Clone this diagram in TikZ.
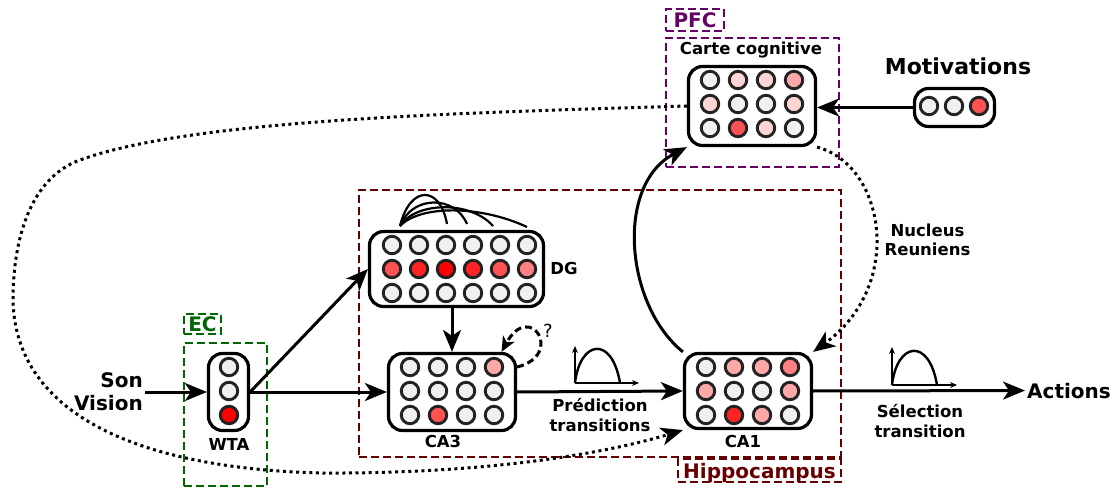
\documentclass[tikz,border=0pt]{standalone}
\usepackage{fontspec}
\setmainfont{DejaVu Sans}
\usetikzlibrary{positioning,arrows.meta,calc}
\definecolor{Plum}{RGB}{102,0,102}
\definecolor{Forest}{RGB}{0,102,0}
\definecolor{Maroon}{RGB}{102,0,0}
\definecolor{Soot}{RGB}{34,34,34}
\definecolor{Idle}{RGB}{240,240,240}
\definecolor{Blush}{RGB}{255,212,212}
\definecolor{Rosy}{RGB}{255,168,168}
\definecolor{Salmon}{RGB}{255,128,128}
\definecolor{Coral}{RGB}{255,82,82}
\definecolor{Scarlet}{RGB}{255,36,36}
\definecolor{Fire}{RGB}{255,0,0}

\begin{document}
\begin{tikzpicture}[x=1pt,y=1pt,
    layer/.style={rectangle,draw=black,fill=white,line width=3.2pt,rounded corners=14pt},
    cell/.style={circle,draw=Soot,line width=2.9pt,minimum size=17.5pt,inner sep=0pt},
    region/.style={rectangle,draw=#1,text=#1,line width=2.7pt,dash pattern=on 8pt off 4pt,inner sep=0pt,font=\bfseries\fontsize{20}{23}\selectfont},
    lbl/.style={font=\bfseries\fontsize{16.5}{19.5}\selectfont,inner sep=2pt},
    title/.style={font=\bfseries\fontsize{20}{23}\selectfont,inner sep=2pt},
    arrow/.style={-{Stealth[length=22pt,width=18pt,inset=6pt]},line width=3pt},
    relay/.style={arrow,dash pattern=on 3pt off 3.6pt},
    guess/.style={-{Stealth[length=15pt,width=13pt,inset=4pt]},line width=3pt,dash pattern=on 7pt off 4pt},
    fan/.style={line width=2.2pt},
    axis/.style={-{Stealth[length=7pt,width=6pt]},line width=1.8pt}
]
\useasboundingbox (0,0) rectangle (1114,-489);

% Regions
\node[region=Plum,minimum width=173,minimum height=129] (pfc) at (752.5,-102.5) {};
\node[region=Plum,minimum width=58,minimum height=22] (pfc-label) at (695,-20) {PFC};
\node[region=Maroon,minimum width=482,minimum height=267] (hippo) at (600,-323.5) {};
\node[region=Maroon,minimum width=163,minimum height=23,text depth=0pt] (hippo-label) at (759.5,-470.5) {Hippocampus};
\node[region=Forest,minimum width=83,minimum height=143] (ec) at (225.5,-414.5) {};
\node[region=Forest,minimum width=37,minimum height=20] (ec-label) at (202.5,-324) {EC};

% Layers
\node[layer,minimum width=127,minimum height=79] (carte) at (752,-106) {};
\node[layer,minimum width=80,minimum height=38] (motiv) at (954.5,-107.5) {};
\node[layer,minimum width=174,minimum height=75] (dg) at (456.5,-269) {};
\node[layer,minimum width=127,minimum height=77] (ca3) at (452,-392) {};
\node[layer,minimum width=127,minimum height=75] (ca1) at (748,-391) {};
\node[layer,minimum width=40,minimum height=77] (wta) at (228.5,-392) {};

% Cells
\foreach \c [count=\k from 0] in {Idle,Blush,Blush,Rosy,Blush,Idle,Idle,Blush,Idle,Coral,Blush,Idle}{
  \pgfmathtruncatemacro\col{mod(\k,4)}
  \pgfmathtruncatemacro\row{(\k-\col)/4}
  \node[cell,fill=\c] (carte-c\k) at ({710+28*\col},{-80-24*\row}) {};
}
\foreach \c [count=\k from 0] in {Idle,Idle,Coral}{
  \node[cell,fill=\c] (motiv-c\k) at ({929+25*\k},-106) {};
}
\foreach \c [count=\k from 0] in {Idle,Idle,Idle,Idle,Idle,Idle,Coral,Scarlet,Fire,Scarlet,Coral,Salmon,Idle,Idle,Idle,Idle,Idle,Idle}{
  \pgfmathtruncatemacro\col{mod(\k,6)}
  \pgfmathtruncatemacro\row{(\k-\col)/6}
  \node[cell,fill=\c] (dg-c\k) at ({392+27*\col},{-245-24*\row}) {};
}
\foreach \c [count=\k from 0] in {Idle,Idle,Idle,Rosy,Idle,Idle,Idle,Idle,Idle,Coral,Idle,Idle}{
  \pgfmathtruncatemacro\col{mod(\k,4)}
  \pgfmathtruncatemacro\row{(\k-\col)/4}
  \node[cell,fill=\c] (ca3-c\k) at ({410+28*\col},{-367-24*\row}) {};
}
\foreach \c [count=\k from 0] in {Idle,Rosy,Rosy,Salmon,Rosy,Idle,Idle,Rosy,Idle,Scarlet,Rosy,Idle}{
  \pgfmathtruncatemacro\col{mod(\k,4)}
  \pgfmathtruncatemacro\row{(\k-\col)/4}
  \node[cell,fill=\c] (ca1-c\k) at ({706+28*\col},{-367-24*\row}) {};
}
\foreach \c [count=\k from 0] in {Idle,Idle,Fire}{
  \node[cell,fill=\c] (wta-c\k) at (229,{-367-24*\k}) {};
}

% Labels
\node[lbl,anchor=base] (carte-name) at (751,-55) {Carte cognitive};
\node[title,font=\bfseries\fontsize{22}{26}\selectfont,anchor=base] (motiv-name) at (958,-75) {Motivations};
\node[lbl,anchor=base] (dg-name) at (564,-275) {DG};
\node[lbl,anchor=base] (wta-name) at (229,-450) {WTA};
\node[lbl,anchor=base] (ca3-name) at (443,-447) {CA3};
\node[lbl,anchor=base] (ca1-name) at (743,-447) {CA1};
\node[title,align=right,anchor=east] (sens) at (145,-392) {Son\\Vision};
\node[title,anchor=base west] (actions) at (1025,-398) {Actions};
\node[lbl,align=center] (predict) at (600,-415) {Prédiction\\transitions};
\node[lbl,align=center] (select) at (920,-421) {Sélection\\transition};
\node[lbl,align=center] (nucleus) at (927.5,-240) {Nucleus\\Reuniens};
\node[font=\fontsize{18}{21}\selectfont,anchor=base] (doubt) at (548,-337) {?};

% Feed-forward
\draw[arrow] (sens.east) -- (wta.west);
\draw[arrow] (wta.east) -- (ca3.west);
\draw[arrow] (wta.east) -- (dg.west);
\draw[arrow] (dg.south -| ca3.north) -- (ca3.north);
\draw[arrow] (ca3.east) -- (ca1.west);
\draw[arrow] (ca1.east) -- (actions.west);
\draw[arrow] (motiv.west) -- (motiv.west -| carte.east);
\draw[arrow] (ca1.north west) .. controls (625,-305) and (615,-185) .. (carte.south west);

% Recurrent fan on DG
\draw[fan] (400,-226) .. controls (410,-185) and (440,-185) .. (447,-224);
\draw[fan] (400,-226) .. controls (412,-195) and (455,-195) .. (467,-224);
\draw[fan] (400,-226) .. controls (415,-202) and (470,-200) .. (493,-226);
\draw[fan] (400,-226) .. controls (420,-205) and (480,-205) .. (527,-227);

% CA3 self loop
\draw[guess] (ca3.21) .. controls (565,-355) and (530,-300) .. (ca3.39);

% Dotted pathways
\draw[relay] (carte.south east) .. controls (885,-165) and (905,-285) .. (ca1.north east);
\draw[relay] (carte.west) .. controls (450,-113) and (190,-120) .. (80,-160)
    .. controls (30,-178) and (13,-240) .. (13,-300)
    .. controls (15,-410) and (130,-468) .. (320,-473)
    .. controls (480,-474) and (600,-455) .. (ca1.south west);

% Transition curves
\draw[axis] (575,-383) -- (575,-346);
\draw[axis] (575,-383) -- (639,-383);
\draw[line width=2.4pt] (575,-383) .. controls (580,-340) and (612,-335) .. (620,-383);
\draw[axis] (892,-385) -- (892,-347);
\draw[axis] (892,-385) -- (957,-385);
\draw[line width=2.4pt] (892,-385) .. controls (897,-342) and (929,-337) .. (937,-385);

\end{tikzpicture}
\end{document}
